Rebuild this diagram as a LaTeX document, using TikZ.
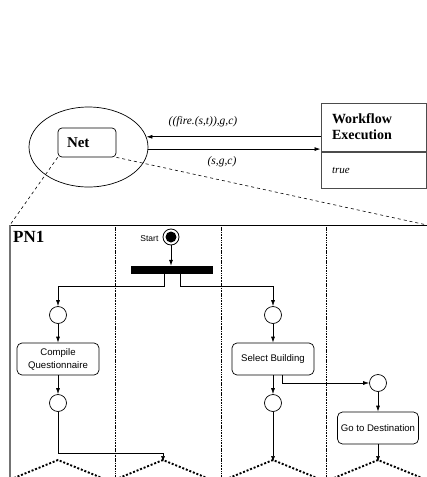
\documentclass[tikz,border=0pt]{standalone}
\usepackage{fontspec}
\setmainfont{Liberation Serif}
\setsansfont{Liberation Sans}
\usetikzlibrary{shapes.geometric,arrows.meta}

\begin{document}
\begin{tikzpicture}[x=1pt,y=-1pt,
  arr/.style={-{Latex[length=6pt,width=4pt]}, line width=0.7pt},
  place/.style={circle, draw, line width=0.7pt, minimum size=17pt, inner sep=0pt},
  task/.style={draw, rounded corners=5pt, line width=0.7pt, minimum width=82pt,
    minimum height=32pt, align=center, inner sep=1pt,
    font=\sffamily\fontsize{9.6}{13}\selectfont},
  lane/.style={line width=0.6pt, dash pattern=on 1.2pt off 0.8pt on 0.5pt off 0.8pt},
  zig/.style={line width=1.9pt, dash pattern=on 2pt off 1.8pt},
  zoomline/.style={line width=0.6pt, dash pattern=on 3pt off 3pt},
  lbl/.style={font=\itshape\fontsize{11.5}{13}\selectfont, inner sep=0pt},
  wfpart/.style={draw=black!70, line width=1pt, minimum width=105pt,
    text width=83pt, inner xsep=11pt, align=left},
]
\useasboundingbox (0,0) rectangle (427,477);
\clip (0,0) rectangle (427,477);

% context: the net inside its environment
\node[draw, ellipse, minimum width=119pt, minimum height=80pt, inner sep=0pt,
  line width=0.7pt] (ctx) at (88.5,147) {};
\node[draw, rounded corners=4pt, line width=0.7pt, minimum width=58pt,
  minimum height=29pt, text width=40pt, inner xsep=9pt, align=left,
  font=\bfseries\fontsize{15}{17}\selectfont] (net) at (87,142.5) {Net};

\node[wfpart, minimum height=48pt, font=\bfseries\fontsize{14}{16}\selectfont]
  (wfhead) at (373.5,127) {Workflow\\Execution};
\node[wfpart, minimum height=36pt, anchor=north,
  font=\itshape\fontsize{11}{13}\selectfont] (wfguard) at (wfhead.south) {true};

\draw[arr] (wfhead.west |- ctx.10) -- (ctx.10);
\draw[arr] (ctx.-2) -- (wfhead.west |- ctx.-2);
\node[lbl] (fire) at (203,122) {((fire.(s,t)),g,c)};
\node[lbl] (sgc) at (222,162) {(s,g,c)};

% frame of the expanded net
\coordinate (fnw) at (10,225);
\coordinate (fne) at (427,225);
\coordinate (fsw) at (10,480);
\draw[line width=0.7pt] (fnw) -- (fne);
\draw[black!55, line width=1.3pt] (fnw) -- (fsw);
\node[font=\bfseries\fontsize{17}{19}\selectfont, anchor=west, inner sep=0pt]
  (pn) at (13,237) {PN1};

\draw[zoomline] (net.south west) -- (fnw);
\draw[zoomline] (net.south east) -- (fne);

% swimlane separators
\foreach \x in {115,221,326} \draw[lane] (\x,225) -- (\x,480);

% start and fork
\node[circle, draw, line width=0.8pt, minimum size=16pt, inner sep=0pt]
  (start) at (171,237) {};
\fill (start.center) circle (5.5pt);
\node[font=\sffamily\fontsize{8.5}{10}\selectfont, anchor=east, inner sep=0pt]
  (startlbl) at ([xshift=-4pt,yshift=-1.5pt]start.west) {Start};
\node[fill, minimum width=82pt, minimum height=8pt, inner sep=0pt]
  (bar) at (172,270) {};
\draw[arr] (start.south) -- (start.south |- bar.north);

\coordinate (legL) at (164,286);
\coordinate (legR) at (180,286);

% left branch
\node[place] (c1) at (58,315) {};
\node[task] (compile) at (58,359) {Compile\\Questionnaire};
\node[place] (c2) at (58,403) {};

% right branch
\node[place] (c3) at (273,315) {};
\node[task] (select) at (273,359) {Select Building};
\node[place] (c4) at (273,403) {};
\node[place] (c5) at (378,383) {};
\node[task, minimum width=81pt] (goto) at (378,428) {Go to Destination};

% continuation markers
\coordinate (z1) at (58,460);
\coordinate (z2) at (163,460);
\coordinate (z3) at (273,460);
\coordinate (z4) at (378,460);
\foreach \z in {z1,z2,z3,z4}
  \draw[zig] (\z) ++(-44,18) -- (\z) -- ++(44,18);

% flow
\draw[arr] (bar.south -| legL) -- (legL) -| (c1);
\draw[arr] (bar.south -| legR) -- (legR) -| (c3);
\draw[arr] (c1) -- (compile);
\draw[arr] (compile) -- (c2);
\draw[arr] (c2.south) |- ([yshift=7pt]z2) -- ([yshift=-2pt]z2);
\draw[arr] (c3) -- (select);
\draw[arr] (select) -- (c4);
\draw[arr] (c4) -- ([yshift=-2pt]z3);
\draw[arr] ([xshift=9pt]select.south) |- (c5);
\draw[arr] (c5) -- (goto);
\draw[arr] (goto) -- ([yshift=-2pt]z4);
\end{tikzpicture}
\end{document}
